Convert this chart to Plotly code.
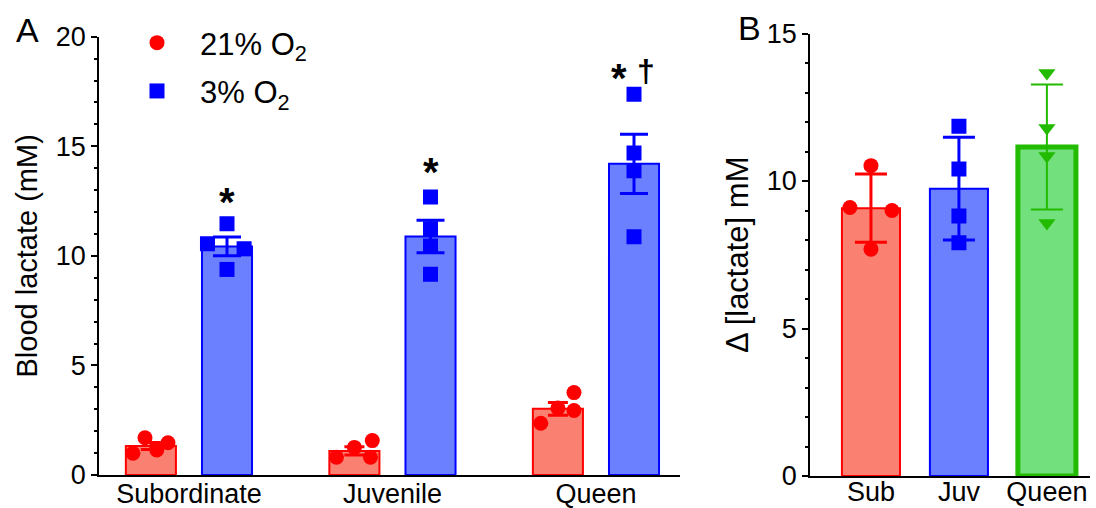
import plotly.graph_objects as go

# ---- Panel A: blood lactate under 21% vs 3% O2 ----
groups_a = ["Subordinate", "Juvenile", "Queen"]
normoxia_mean = [1.32, 1.10, 3.02]
normoxia_sem = [0.16, 0.19, 0.29]
hypoxia_mean = [10.43, 10.88, 14.20]
hypoxia_sem = [0.43, 0.74, 1.35]
normoxia_points = [[0.99, 1.70, 1.14, 1.47],
                   [0.81, 1.26, 1.57, 0.81],
                   [2.36, 3.06, 3.76, 2.94]]
hypoxia_points = [[10.55, 11.46, 10.32, 9.38],
                  [12.69, 11.24, 10.45, 9.16],
                  [17.37, 14.69, 13.88, 10.87]]

# ---- Panel B: change in lactate ----
groups_b = ["Sub", "Juv", "Queen"]
delta_mean = [9.08, 9.74, 11.15]
delta_sd = [1.16, 1.74, 2.12]
delta_points = [[9.10, 10.52, 9.00, 7.69],
                [11.86, 10.41, 8.81, 7.91],
                [13.66, 11.80, 10.85, 8.58]]

# horizontal spread of individual points (axis units, scatter-dot layout)
spread_norm = [[-0.088, -0.029, 0.029, 0.084],
               [-0.088, 0.0, 0.088, 0.079],
               [-0.084, 0.0, 0.079, 0.079]]
spread_hyp = [[-0.096, 0.0, 0.084, 0.0],
              [0.0, 0.0, 0.0, 0.0],
              [0.0, 0.0, 0.0, 0.0]]
spread_b = [[-0.239, 0.0, 0.239, 0.0],
            [0.0, 0.0, 0.0, 0.0],
            [0.0, 0.0, 0.0, 0.0]]

FONT = "Liberation Sans, Arial, sans-serif"
RED, RED_FILL = "#ff0000", "#fa8072"
BLUE, BLUE_FILL = "#0000ff", "#6b80ff"
GREEN, GREEN_FILL = "#22bb00", "#72e07c"

GROUP_OFF = 0.187
BAR_W_A = 0.246
BAR_W_B = 0.66
W, H = 1096, 508

fig = go.Figure()

xa = list(range(len(groups_a)))
x_norm = [i - GROUP_OFF for i in xa]
x_hyp = [i + GROUP_OFF for i in xa]

fig.add_trace(go.Bar(
    x=x_norm, y=normoxia_mean, width=BAR_W_A,
    marker=dict(color=RED_FILL, line=dict(color=RED, width=2)),
    error_y=dict(type="data", array=normoxia_sem, color=RED, thickness=3, width=10),
    showlegend=False, xaxis="x", yaxis="y"))
fig.add_trace(go.Bar(
    x=x_hyp, y=hypoxia_mean, width=BAR_W_A,
    marker=dict(color=BLUE_FILL, line=dict(color=BLUE, width=2)),
    error_y=dict(type="data", array=hypoxia_sem, color=BLUE, thickness=3, width=14),
    showlegend=False, xaxis="x", yaxis="y"))

px_n, py_n, px_h, py_h = [], [], [], []
for i in xa:
    for v, d in zip(normoxia_points[i], spread_norm[i]):
        px_n.append(x_norm[i] + d)
        py_n.append(v)
    for v, d in zip(hypoxia_points[i], spread_hyp[i]):
        px_h.append(x_hyp[i] + d)
        py_h.append(v)

fig.add_trace(go.Scatter(
    x=px_n, y=py_n, mode="markers", name="21% O<sub>2</sub>",
    marker=dict(symbol="circle", size=15, color=RED),
    legendgroup="a", xaxis="x", yaxis="y"))
fig.add_trace(go.Scatter(
    x=px_h, y=py_h, mode="markers", name="3% O<sub>2</sub>",
    marker=dict(symbol="square", size=15, color=BLUE),
    legendgroup="b", xaxis="x", yaxis="y"))

# panel B bars
b_fill = [RED_FILL, BLUE_FILL, GREEN_FILL]
b_line = [RED, BLUE, GREEN]
b_lw = [2, 2, 5]
b_sym = ["circle", "square", "triangle-down"]
b_cap_th = [3, 3, 2]
for i in range(len(groups_b)):
    fig.add_trace(go.Bar(
        x=[i], y=[delta_mean[i]], width=BAR_W_B,
        marker=dict(color=b_fill[i], line=dict(color=b_line[i], width=b_lw[i])),
        error_y=dict(type="data", array=[delta_sd[i]], color=b_line[i],
                     thickness=b_cap_th[i], width=16),
        showlegend=False, xaxis="x2", yaxis="y2"))
for i in range(len(groups_b)):
    fig.add_trace(go.Scatter(
        x=[i + d for d in spread_b[i]], y=delta_points[i], mode="markers",
        marker=dict(symbol=b_sym[i], size=15, color=b_line[i]),
        showlegend=False, xaxis="x2", yaxis="y2"))

axis_common = dict(showline=True, linecolor="black", linewidth=1.8,
                   showgrid=False, zeroline=False, automargin=False,
                   tickfont=dict(family=FONT, size=27, color="black"))
y_ticks = dict(ticks="outside", ticklen=6, tickwidth=1.8, tickcolor="black",
               minor=dict(dtick=1, ticks="outside", ticklen=3, tickwidth=1.5,
                          tickcolor="black"))

fig.update_layout(
    width=W, height=H,
    margin=dict(l=0, r=0, t=0, b=0, autoexpand=False),
    paper_bgcolor="white", plot_bgcolor="white",
    font=dict(family=FONT, color="black"),
    barmode="overlay",
    xaxis=dict(domain=[99 / W, 680 / W], range=[-0.442, 2.413],
               tickvals=xa, ticktext=groups_a, ticks="", ticklabelstandoff=-6,
               **axis_common),
    yaxis=dict(domain=[1 - 475 / H, 1 - 36.7 / H], range=[0, 20],
               tickvals=[0, 5, 10, 15, 20],
               title=dict(text="Blood lactate (mM)", standoff=9,
                          font=dict(family=FONT, size=29)),
               **y_ticks, **axis_common),
    xaxis2=dict(domain=[810 / W, 1090 / W], range=[-0.693, 2.49],
                tickvals=list(range(len(groups_b))), ticktext=groups_b, ticks="",
                ticklabelstandoff=-9, anchor="y2", **axis_common),
    yaxis2=dict(domain=[1 - 476 / H, 1 - 33.5 / H], range=[0, 15],
                tickvals=[0, 5, 10, 15], anchor="x2",
                title=dict(text="Δ [lactate] mM", standoff=9,
                           font=dict(family=FONT, size=31)),
                **y_ticks, **axis_common),
    legend=dict(x=114 / W, y=1 - 16 / H, xanchor="left", yanchor="top",
                font=dict(family=FONT, size=31), bgcolor="rgba(0,0,0,0)",
                itemwidth=76, tracegroupgap=5),
    annotations=[
        dict(text="A", x=27 / W, y=1 - 30 / H, xref="paper", yref="paper",
             xanchor="center", yanchor="middle", showarrow=False,
             font=dict(size=34)),
        dict(text="B", x=749 / W, y=1 - 28 / H, xref="paper", yref="paper",
             xanchor="center", yanchor="middle", showarrow=False,
             font=dict(size=34)),
        dict(text="<b>*</b>", x=x_hyp[0], y=12.47, xref="x", yref="y",
             showarrow=False, font=dict(size=40)),
        dict(text="<b>*</b>", x=x_hyp[1], y=13.81, xref="x", yref="y",
             showarrow=False, font=dict(size=40)),
        dict(text="<b>*</b>", x=x_hyp[2] - 0.076, y=18.13, xref="x", yref="y",
             showarrow=False, font=dict(size=40)),
        dict(text="<b>†</b>", x=x_hyp[2] + 0.061, y=18.45, xref="x", yref="y",
             showarrow=False, font=dict(size=32)),
    ],
)

fig.write_html("out.html")
